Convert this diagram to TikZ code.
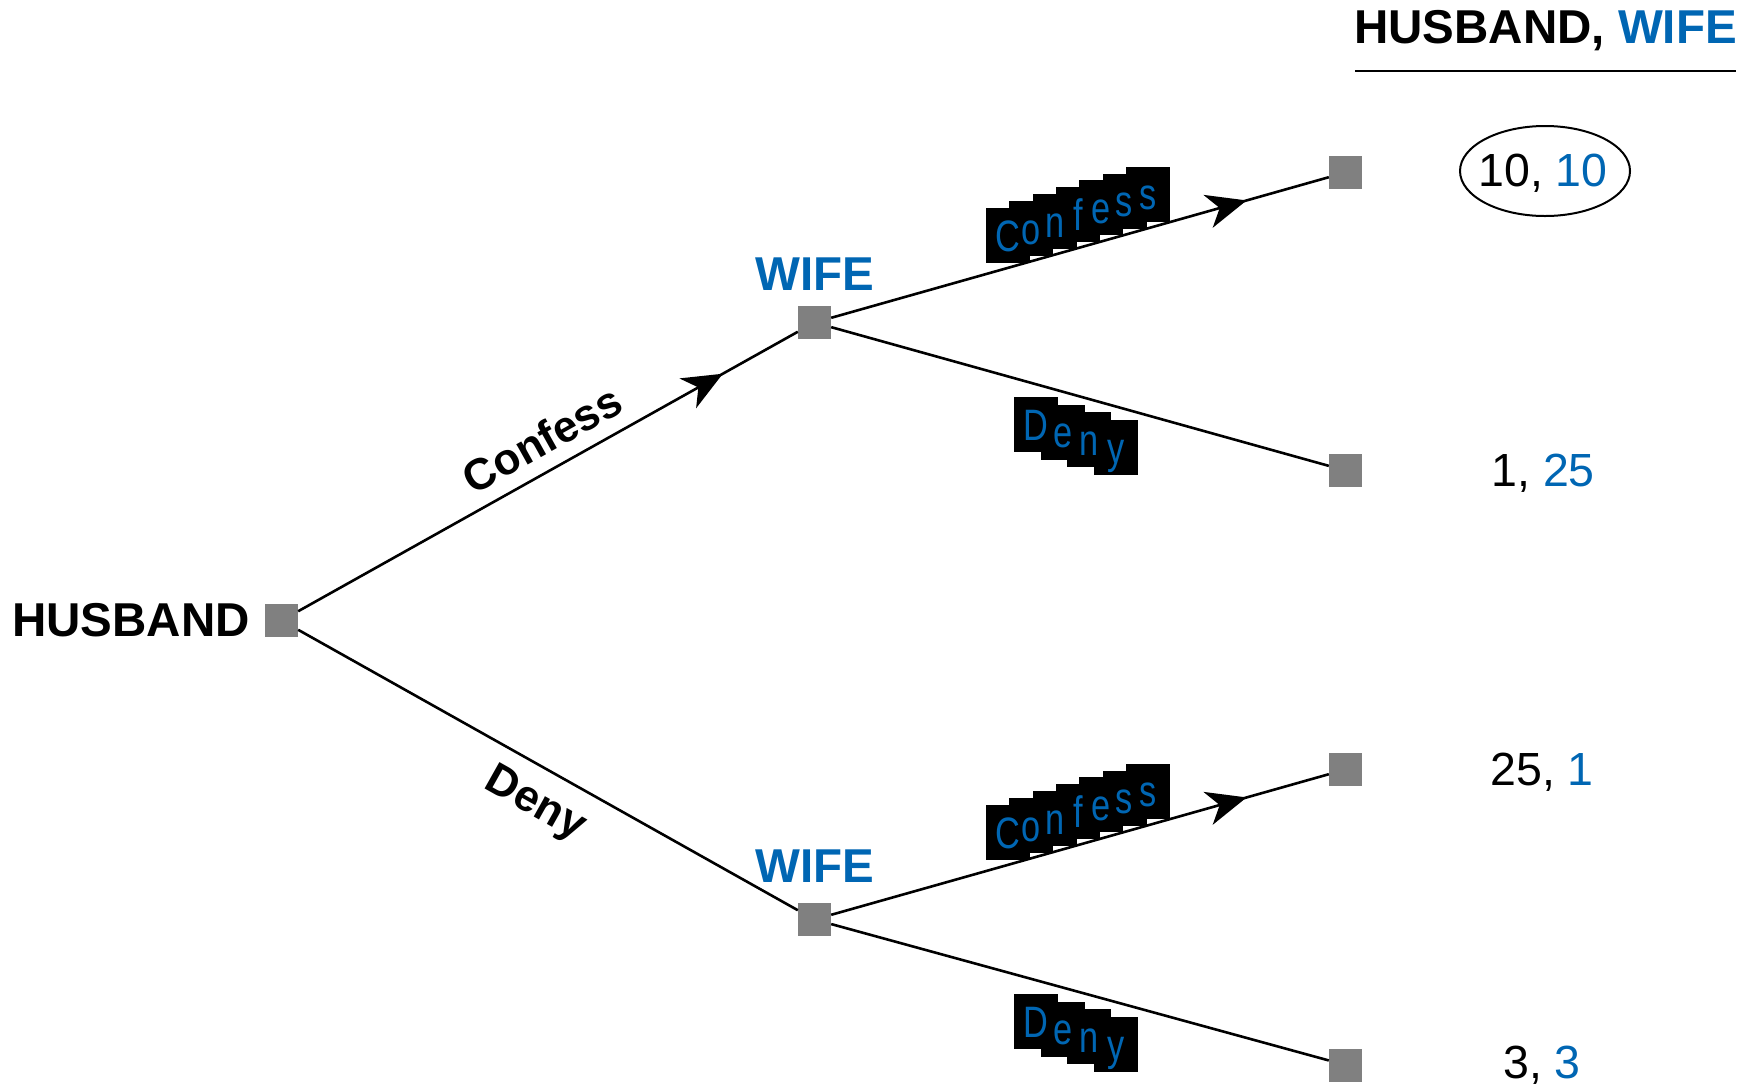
\documentclass[tikz,border=0pt]{standalone}
\usepackage{fontspec}
\setmainfont{Liberation Sans}
\usetikzlibrary{arrows.meta,decorations.markings,shapes.geometric}
\definecolor{wblue}{RGB}{0,102,179}
\definecolor{sqgray}{RGB}{128,128,128}

% A word set letter by letter, each letter on its own black tile,
% the tiles stepping along a branch.
\newcommand{\stepword}[6]{%
  \foreach \ch [count=\i from 0] in {#6} {\node[tagbox] (#1b\i) at ({#2+#4*\i},{#3+#5*\i}) {};}
  \foreach \ch [count=\i from 0] in {#6} {\node[tagtext] (#1l\i) at ({#2+#4*\i},{#3+#5*\i}) {\ch};}
}

\begin{document}
\begin{tikzpicture}[x=1pt,y=-1pt,
  dec/.style={fill=sqgray, minimum size=33pt, inner sep=0pt},
  branch/.style={line width=2.6pt},
  arrowed/.style={branch, postaction={decorate},
    decoration={markings, mark=at position #1 with {\arrow{Stealth[length=40pt,width=34pt,inset=12pt]}}}},
  player/.style={font=\fontsize{47.5}{52}\selectfont\bfseries, inner sep=0pt},
  payoff/.style={font=\fontsize{46.5}{50}\selectfont, inner sep=0pt},
  move/.style={font=\fontsize{44}{48}\selectfont\bfseries, inner sep=0pt},
  tagbox/.style={fill=black, minimum width=44pt, minimum height=55pt, inner sep=0pt},
  tagtext/.style={text=wblue, inner sep=0pt, text height=31pt, text depth=0pt,
    xscale=0.78, font=\fontsize{44}{44}\selectfont},
]
\useasboundingbox (0,0) rectangle (1752,1085);

% decision and terminal nodes
\node[dec] (h)  at (281.5,620.5) {};
\node[dec] (w1) at (814.5,322.5) {};
\node[dec] (w2) at (814.5,919.5) {};
\node[dec] (t1) at (1345.5,172.5) {};
\node[dec] (t2) at (1345.5,470.5) {};
\node[dec] (t3) at (1345.5,769.5) {};
\node[dec] (t4) at (1345.5,1065) {};

% branches
\draw[arrowed=0.85]  (h)  -- (w1);
\draw[branch]        (h)  -- (w2);
\draw[arrowed=0.835] (w1) -- (t1);
\draw[branch]        (w1) -- (t2);
\draw[arrowed=0.835] (w2) -- (t3);
\draw[branch]        (w2) -- (t4);

% players
\node[player, anchor=base east] (hl) at (250,636) {HUSBAND};
\node[player, text=wblue, anchor=base] (wl1) at (815,290) {WIFE};
\node[player, text=wblue, anchor=base] (wl2) at (815,882) {WIFE};

% payoff header
\node[player, anchor=base] (hd) at (1545.5,43) {HUSBAND, \textcolor{wblue}{WIFE}};
\coordinate (u1) at (1355,71);
\coordinate (u2) at (1736,71);
\draw[line width=2.6pt] (u1) -- (u2);

% payoffs
\node[payoff, anchor=base] (p1) at (1543,186) {10, \textcolor{wblue}{10}};
\node[draw, ellipse, line width=2pt, minimum width=170pt, minimum height=90pt] (ring) at (1545,171) {};
\node[payoff, anchor=base] (p2) at (1543,486) {1, \textcolor{wblue}{25}};
\node[payoff, anchor=base] (p3) at (1542,785) {25, \textcolor{wblue}{1}};
\node[payoff, anchor=base] (p4) at (1542,1078) {3, \textcolor{wblue}{3}};

% husband's moves
\node[move, rotate=29.2]  (mc) at (542,439) {Confess};
\node[move, rotate=-29.3] (md) at (535,805) {Deny};

% wife's moves
\stepword{ca}{1008}{235.5}{23.3}{-6.9}{C,o,n,f,e,s,s}
\stepword{da}{1036}{424.5}{26.7}{7.67}{D,e,n,y}
\stepword{cb}{1008}{832.5}{23.3}{-6.9}{C,o,n,f,e,s,s}
\stepword{db}{1036}{1021.5}{26.7}{7.67}{D,e,n,y}
\end{tikzpicture}
\end{document}
